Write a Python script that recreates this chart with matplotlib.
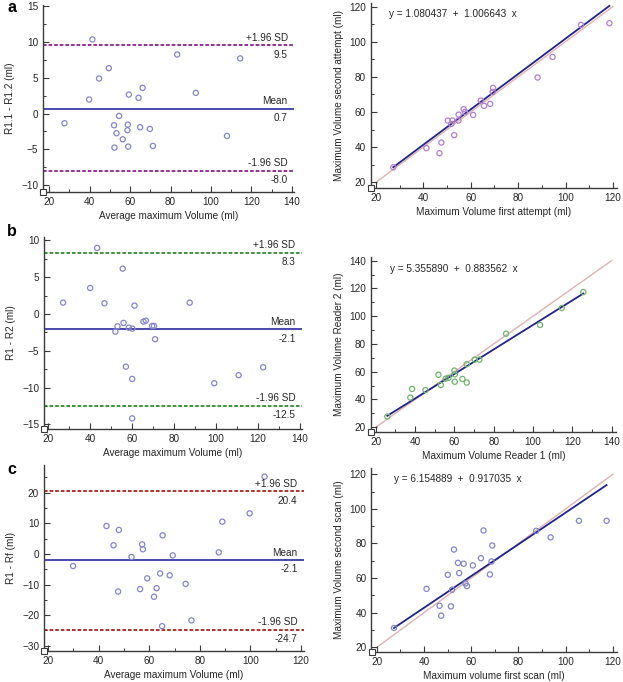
import numpy as np
import matplotlib
matplotlib.use("Agg")
import matplotlib.pyplot as plt
from matplotlib.ticker import AutoMinorLocator, MultipleLocator

plt.rcParams['font.family'] = ['Liberation Sans', 'DejaVu Sans']

# ---- panel a: R1.1 vs R1.2 ----
a_avg = [27.6, 41.4, 39.8, 44.7, 49.5, 54.6, 52.1, 53.3, 52.3, 56.4, 59.4, 58.9,
         58.7, 59.1, 64.2, 66.2, 65.0, 69.8, 71.3, 83.3, 92.5, 107.9, 114.4]
a_diff = [-1.35, 10.34, 1.96, 4.89, 6.33, -0.33, -1.63, -2.75, -4.75, -3.59, 2.65, -1.54,
          -2.33, -4.61, 2.19, 3.59, -1.91, -2.14, -4.52, 8.24, 2.89, -3.12, 7.69]
a_first = [27.3, 41.3, 46.8, 47.6, 50.3, 51.8, 52.3, 53.0, 54.9, 54.8, 57.0, 57.6,
           61.0, 64.2, 65.6, 68.2, 69.2, 69.4, 88.2, 94.5, 106.5, 118.5]
a_second = [28.5, 39.4, 36.5, 42.6, 55.1, 53.2, 55.1, 46.8, 58.5, 55.1, 61.6, 60.0,
            58.3, 66.5, 63.5, 64.6, 71.4, 73.7, 79.6, 91.3, 109.6, 110.5]
a_mean, a_upper, a_lower = 0.7, 9.5, -8.0
a_fit = (1.080437, 1.006643)

# ---- panel b: reader 1 vs reader 2 ----
b_avg = [27.2, 43.4, 40.1, 46.9, 55.6, 61.2, 52.1, 53.1, 56.0, 58.5, 60.2, 65.5,
         66.6, 69.6, 70.5, 71.0, 57.1, 60.1, 60.1, 87.5, 99.2, 110.8, 122.5]
b_diff = [1.54, 8.97, 3.53, 1.45, 6.16, 1.13, -2.40, -1.68, -1.22, -1.86, -1.99, -1.04,
          -0.91, -1.63, -1.63, -3.44, -7.16, -8.83, -14.2, 1.54, -9.42, -8.33, -7.25]
b_r1 = [25.9, 37.6, 38.5, 45.3, 51.9, 53.1, 55.6, 57.0, 60.0, 60.2, 60.2, 64.1,
        66.3, 66.3, 70.3, 72.7, 86.3, 103.6, 114.6, 125.6]
b_r2 = [27.7, 41.4, 47.6, 46.8, 57.8, 50.4, 55.0, 55.6, 60.8, 52.8, 58.1, 54.8,
        52.2, 65.4, 68.7, 68.7, 87.4, 93.7, 105.9, 117.4]
b_mean, b_upper, b_lower = -2.1, 8.3, -12.5
b_fit = (5.355890, 0.883562)

# ---- panel c: first scan vs second scan ----
c_avg = [29.9, 43.1, 48.0, 45.9, 57.2, 57.5, 53.0, 65.3, 69.3, 59.2, 64.3, 68.1,
         56.4, 62.9, 61.9, 47.7, 74.4, 65.1, 76.7, 87.5, 88.9, 99.7, 105.6]
c_diff = [-3.96, 9.1, 7.8, 2.8, 3.1, 1.5, -1.0, 6.05, -0.5, -8.0, -6.4, -7.0,
          -11.5, -11.2, -14.0, -12.3, -9.8, -23.6, -21.7, 0.5, 10.5, 13.2, 25.2]
c_first = [27.3, 41.1, 46.6, 47.3, 50.1, 51.4, 51.9, 52.7, 54.4, 54.9, 56.8, 57.6,
           58.2, 60.7, 64.1, 65.2, 67.9, 68.6, 68.9, 87.5, 93.6, 105.6, 117.3]
c_second = [31.2, 53.8, 44.0, 38.3, 61.9, 43.7, 53.3, 76.5, 68.8, 62.9, 68.3, 56.9,
            55.4, 67.3, 71.5, 87.5, 62.1, 69.6, 78.8, 87.3, 83.5, 93.1, 93.1]
c_mean, c_upper, c_lower = -2.1, 20.4, -24.7
c_fit = (6.154889, 0.917035)

W, H = 623, 682
fig = plt.figure(figsize=(W / 100, H / 100), dpi=100)
fig.patch.set_facecolor('white')

AX_COL = '#3a3a3a'
TXT = '#262626'
FS = 7.2


def make_ax(left, top, right, bottom, xlim, ylim, xstep, ystep):
    ax = fig.add_axes([left / W, 1 - bottom / H, (right - left) / W, (bottom - top) / H])
    ax.set_xlim(*xlim)
    ax.set_ylim(*ylim)
    ax.xaxis.set_major_locator(MultipleLocator(xstep))
    ax.yaxis.set_major_locator(MultipleLocator(ystep))
    ax.xaxis.set_minor_locator(AutoMinorLocator(2))
    ax.yaxis.set_minor_locator(AutoMinorLocator(2))
    for s in ['top', 'right']:
        ax.spines[s].set_visible(False)
    for s in ['left', 'bottom']:
        ax.spines[s].set_color(AX_COL)
        ax.spines[s].set_linewidth(1.0)
    ax.tick_params(which='major', direction='in', length=4, width=0.8, color=AX_COL,
                   labelsize=FS, labelcolor=TXT, pad=3.5)
    ax.tick_params(which='minor', direction='in', length=2.5, width=0.7, color=AX_COL)
    # small square at the axes origin
    ax.plot([xlim[0]], [ylim[0]], marker='s', ms=4, mfc='white', mec=AX_COL, mew=0.8,
            clip_on=False, zorder=5)
    return ax


def bland_altman(ax, avg, diff, mean, upper, lower, lim_color, ylabel, xlabel):
    ax.scatter(avg, diff, s=14, facecolors='none', edgecolors='#8585cc', linewidths=0.9, zorder=3)
    ax.axhline(mean, color='#3a3aa8', lw=1.3, zorder=2)
    ax.axhline(upper, color=lim_color, lw=1.3, ls=(0, (2.0, 1.1)), zorder=2)
    ax.axhline(lower, color=lim_color, lw=1.3, ls=(0, (2.0, 1.1)), zorder=2)
    tx = 0.975
    for val, name in [(upper, '+1.96 SD'), (mean, 'Mean'), (lower, '-1.96 SD')]:
        ax.annotate(name, xy=(tx, val), xycoords=('axes fraction', 'data'),
                    xytext=(0, 2), textcoords='offset points', ha='right', va='bottom',
                    fontsize=FS, color=TXT)
        ax.annotate(f'{val:.1f}', xy=(tx, val), xycoords=('axes fraction', 'data'),
                    xytext=(0, -3), textcoords='offset points', ha='right', va='top',
                    fontsize=FS, color=TXT)
    ax.set_ylabel(ylabel, fontsize=FS, color=TXT, labelpad=4)
    ax.set_xlabel(xlabel, fontsize=FS, color=TXT, labelpad=3)


def regression(ax, x, y, fit, pt_color, ident_end, ylabel, xlabel, eq_pos):
    ax.plot([20, ident_end], [20, ident_end], color='#dcb4b4', lw=1.0, zorder=1)
    xs = np.array([min(x), max(x)])
    ax.plot(xs, fit[0] + fit[1] * xs, color='#222288', lw=1.3, zorder=2)
    ax.scatter(x, y, s=14, facecolors='none', edgecolors=pt_color, linewidths=0.9, zorder=3)
    ax.text(eq_pos[0], eq_pos[1], f'y = {fit[0]:.6f}  +  {fit[1]:.6f}  x', transform=ax.transAxes,
            ha='left', va='center', fontsize=FS, color=TXT)
    ax.set_ylabel(ylabel, fontsize=FS, color=TXT, labelpad=4)
    ax.set_xlabel(xlabel, fontsize=FS, color=TXT, labelpad=3)


# row a
ax = make_ax(43, 4.6, 294, 191.7, (17, 141), (-10.9, 15.2), 20, 5)
bland_altman(ax, a_avg, a_diff, a_mean, a_upper, a_lower, '#8a1f8a',
             'R1.1 - R1.2 (ml)', 'Average maximum Volume (ml)')
ax = make_ax(371, 3, 617, 187.7, (17.9, 121.7), (16.9, 122), 20, 20)
regression(ax, a_first, a_second, a_fit, '#b27fcf', 120,
           'Maximum Volume second attempt (ml)', 'Maximum Volume first attempt (ml)',
           (0.073, 0.94))

# row b
ax = make_ax(44, 236.7, 302, 429, (18.1, 141), (-15.64, 10.5), 20, 5)
bland_altman(ax, b_avg, b_diff, b_mean, b_upper, b_lower, '#2e8a2e',
             'R1 - R2 (ml)', 'Average maximum Volume (ml)')
ax = make_ax(371, 257.3, 616, 431.7, (17.6, 142.2), (16.8, 142.4), 20, 20)
regression(ax, b_r1, b_r2, b_fit, '#6fb46f', 140,
           'Maximum Volume Reader 2 (ml)', 'Maximum Volume Reader 1 (ml)',
           (0.078, 0.933))

# row c
ax = make_ax(44, 465, 304, 651, (18.4, 121.2), (-31.7, 29), 20, 10)
bland_altman(ax, c_avg, c_diff, c_mean, c_upper, c_lower, '#a82020',
             'R1 - Rf (ml)', 'Average maximum Volume (ml)')
ax = make_ax(371.5, 468.3, 617, 651.7, (17.8, 121.7), (17.5, 123.4), 20, 20)
regression(ax, c_first, c_second, c_fit, '#8585cc', 120,
           'Maximum Volume second scan (ml)', 'Maximum volume first scan (ml)',
           (0.092, 0.94))

for letter, y in [('a', 8), ('b', 232), ('c', 470)]:
    fig.text(7 / W, 1 - y / H, letter, fontsize=11.5, fontweight='bold', ha='left', va='center',
             color='black')

fig.savefig('out.png', dpi=100, facecolor='white')
